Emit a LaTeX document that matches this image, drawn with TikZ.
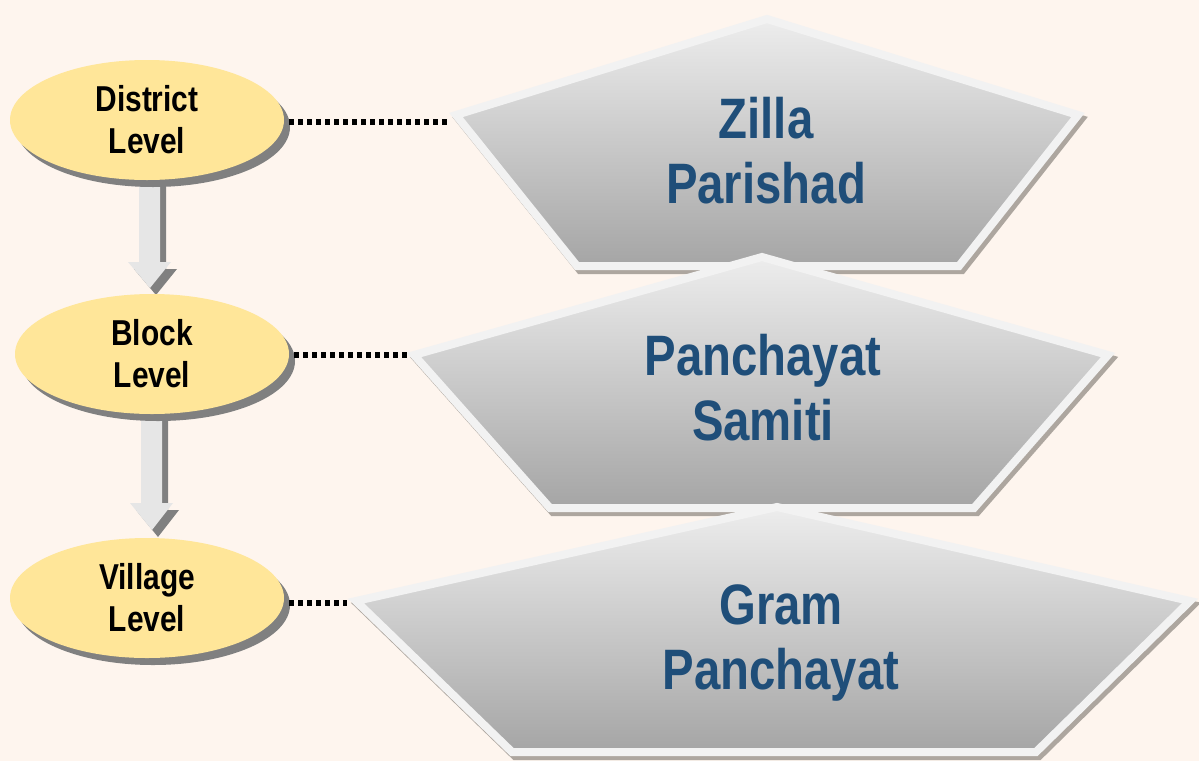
\documentclass[tikz,border=0pt]{standalone}
\usepackage{fontspec}
\setmainfont{Liberation Sans}[FakeStretch=0.83]
\usetikzlibrary{shapes.geometric,shadows}
\definecolor{bg}{HTML}{FEF5EE}
\definecolor{ellfill}{HTML}{FFE699}
\definecolor{ellshadow}{HTML}{808080}
\definecolor{ptop}{HTML}{EDEDED}
\definecolor{pbot}{HTML}{A5A5A5}
\definecolor{pborder}{HTML}{F2F2F2}
\definecolor{pshadow}{HTML}{ADA69F}
\definecolor{arrfill}{HTML}{E6E6E6}
\definecolor{txtblue}{HTML}{1F4E79}
\tikzset{
  lvl/.style={ellipse, fill=ellfill, minimum width=274pt, minimum height=120pt, inner sep=0pt,
    drop shadow={shadow xshift=6pt, shadow yshift=-7pt, fill=ellshadow, opacity=1},
    font=\fontsize{36}{42}\selectfont\bfseries, align=center, text=black},
  pentbody/.style={top color=ptop, bottom color=pbot, draw=pborder, line width=8pt, line join=miter},
  pentshadow/.style={fill=pshadow, draw=pshadow, line width=8pt, line join=miter},
  bigtext/.style={font=\fontsize{57}{65}\selectfont\bfseries, text=txtblue, align=center, inner sep=0pt},
  blockarrow/.style={fill=arrfill},
  blockshadow/.style={fill=ellshadow},
  dots/.style={line width=6pt, dash pattern=on 5pt off 4pt}
}
\begin{document}
\begin{tikzpicture}[x=1pt,y=-1pt]
\fill[bg] (0,0) rectangle (1199,761);
\useasboundingbox (0,0) rectangle (1199,761);

% pentagon 1
\draw[pentshadow,shift={(3,4)}] (767,19) -- (1078,115) -- (959,266) -- (577,266) -- (456,115) -- cycle;
\draw[pentbody] (767,19) -- (1078,115) -- (959,266) -- (577,266) -- (456,115) -- cycle;
\coordinate (p1L) at (447,122);
% pentagon 2
\draw[pentshadow,shift={(3,4)}] (762,257) -- (1108,355) -- (974,508) -- (550,508) -- (414,355) -- cycle;
\draw[pentbody] (762,257) -- (1108,355) -- (974,508) -- (550,508) -- (414,355) -- cycle;
\coordinate (p2L) at (409,355);
% pentagon 3
\draw[pentshadow,shift={(3,4)}] (777,507) -- (1190,601) -- (1036,752) -- (512,752) -- (356,601) -- cycle;
\draw[pentbody] (777,507) -- (1190,601) -- (1036,752) -- (512,752) -- (356,601) -- cycle;
\coordinate (p3L) at (347,603);

% block arrows
\fill[blockshadow,shift={(6,7)}] (139,170) -- (160,170) -- (160,262) -- (171,262) -- (150,288) -- (128,262) -- (139,262) -- cycle;
\fill[blockarrow] (139,170) -- (160,170) -- (160,262) -- (171,262) -- (150,288) -- (128,262) -- (139,262) -- cycle;
\fill[blockshadow,shift={(6,7)}] (141,410) -- (162,410) -- (162,503) -- (173,503) -- (152,530) -- (130,503) -- (141,503) -- cycle;
\fill[blockarrow] (141,410) -- (162,410) -- (162,503) -- (173,503) -- (152,530) -- (130,503) -- (141,503) -- cycle;

% level ellipses
\node[lvl] (e1) at (147,120) {District\\Level};
\node[lvl] (e2) at (152,354) {Block\\Level};
\node[lvl] (e3) at (147,598) {Village\\Level};

% dotted connectors
\draw[dots] ([xshift=5pt]e1.east |- p1L) -- (p1L);
\draw[dots] ([xshift=5pt]e2.east |- p2L) -- (p2L);
\draw[dots] ([xshift=5pt]e3.east |- p3L) -- (p3L);

% pentagon labels
\node[bigtext] (t1) at (766,151) {Zilla\\Parishad};
\node[bigtext] (t2) at (763,388) {Panchayat\\Samiti};
\node[bigtext] (t3) at (781,643) {Gram\\Panchayat};
\end{tikzpicture}
\end{document}
